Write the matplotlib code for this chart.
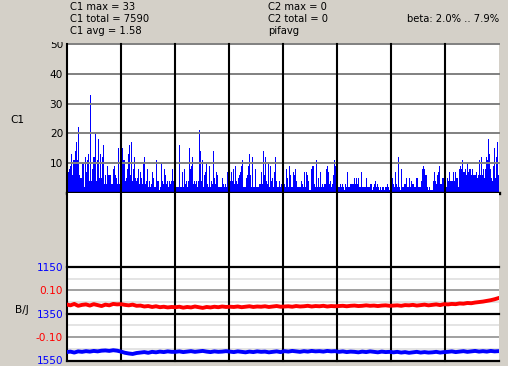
import numpy as np
import matplotlib
matplotlib.use("Agg")
import matplotlib.pyplot as plt
from matplotlib.patches import Rectangle

# ---------------- data ----------------
c1_counts = [
    # segment 1
    8, 7, 8, 9, 13, 6, 11, 11, 14, 17, 11, 22, 6, 5, 5, 10, 10, 2, 12, 7, 11, 13, 4, 33, 4, 8, 12,
    12, 20, 4, 11, 18, 5, 13, 5, 12, 16, 3, 6, 3, 9, 6, 6, 6, 3, 3, 8, 9, 6, 5, 3, 15, 3, 16,
    # segment 2
    16, 15, 11, 11, 4, 5, 8, 13, 16, 6, 17, 4, 8, 12, 5, 4, 5, 8, 3, 7, 5, 3, 10, 12, 3, 4, 8,
    2, 4, 2, 3, 7, 5, 2, 2, 11, 4, 4, 1, 2, 10, 4, 3, 8, 6, 3, 4, 2, 4, 3, 4, 8, 4, 6,
    # segment 3
    3, 2, 2, 2, 16, 2, 2, 7, 2, 8, 3, 4, 2, 4, 15, 8, 9, 12, 3, 4, 3, 4, 2, 4, 21, 14, 4,
    11, 2, 6, 7, 10, 3, 2, 9, 2, 4, 3, 14, 5, 3, 7, 6, 2, 2, 2, 2, 5, 3, 2, 3, 2, 7, 2,
    # segment 4
    7, 4, 7, 4, 8, 3, 9, 4, 3, 5, 6, 7, 9, 11, 2, 2, 2, 5, 6, 9, 13, 6, 2, 12, 2, 2, 8,
    2, 2, 2, 3, 3, 7, 3, 14, 6, 12, 4, 3, 10, 2, 9, 4, 5, 2, 7, 12, 4, 2, 2, 4, 2, 3, 9,
    # segment 5
    9, 3, 2, 8, 5, 2, 9, 6, 2, 2, 7, 6, 8, 4, 2, 2, 2, 2, 4, 3, 2, 7, 2, 7, 6, 4, 1,
    1, 8, 9, 9, 3, 2, 11, 2, 5, 2, 7, 2, 3, 2, 3, 3, 8, 9, 7, 3, 4, 2, 3, 6, 11, 9, 9,
    # segment 6
    2, 2, 2, 3, 2, 3, 2, 1, 3, 2, 7, 2, 2, 3, 3, 3, 3, 5, 3, 5, 3, 5, 2, 2, 7, 2, 2,
    2, 2, 5, 2, 2, 2, 3, 3, 1, 2, 3, 4, 2, 3, 2, 1, 2, 1, 2, 2, 1, 2, 2, 3, 2, 1, 2,
    # segment 7
    2, 5, 3, 2, 7, 3, 2, 12, 2, 1, 8, 2, 2, 3, 3, 5, 2, 2, 5, 2, 4, 3, 3, 2, 2, 5, 5,
    2, 2, 2, 4, 8, 9, 8, 6, 6, 2, 1, 2, 1, 1, 1, 4, 7, 4, 3, 6, 7, 9, 3, 3, 5, 5, 18,
    # segment 8
    4, 2, 5, 4, 7, 4, 4, 4, 7, 4, 7, 5, 5, 2, 8, 9, 8, 11, 7, 7, 8, 6, 10, 7, 8, 8, 6,
    8, 6, 6, 6, 7, 5, 6, 11, 6, 12, 6, 8, 5, 8, 12, 11, 18, 13, 8, 5, 4, 9, 15, 5, 12, 17, 6,
]

pif_red = [
    0.040, 0.036, 0.042, 0.034, 0.038, 0.040, 0.035, 0.041, 0.037, 0.033, 0.039, 0.036, 0.042, 0.040,
    0.041, 0.038, 0.036, 0.039, 0.034, 0.035, 0.031, 0.033, 0.029, 0.032, 0.028, 0.030, 0.027, 0.029,
    0.028, 0.030, 0.026, 0.029, 0.027, 0.031, 0.028, 0.025, 0.029, 0.027, 0.030, 0.028, 0.031, 0.029,
    0.030, 0.029, 0.031, 0.028, 0.030, 0.032, 0.029, 0.031, 0.030, 0.032, 0.029, 0.031, 0.033, 0.030,
    0.031, 0.032, 0.030, 0.033, 0.031, 0.032, 0.034, 0.031, 0.033, 0.032, 0.034, 0.031, 0.033, 0.032,
    0.033, 0.034, 0.032, 0.034, 0.035, 0.033, 0.034, 0.036, 0.034, 0.035, 0.033, 0.035, 0.036, 0.034,
    0.035, 0.036, 0.034, 0.037, 0.036, 0.038, 0.035, 0.037, 0.039, 0.036, 0.038, 0.040, 0.037, 0.041,
    0.040, 0.042, 0.041, 0.044, 0.043, 0.046, 0.045, 0.048, 0.050, 0.052, 0.055, 0.058, 0.062, 0.067,
]

bj_blue = [
    1514, 1512, 1516, 1511, 1513, 1510, 1512, 1509, 1511, 1508, 1507, 1509, 1506, 1508,
    1512, 1517, 1520, 1522, 1518, 1516, 1514, 1517, 1513, 1515, 1512, 1514, 1511, 1513,
    1513, 1511, 1514, 1512, 1510, 1513, 1511, 1509, 1512, 1514, 1511, 1513, 1512, 1510,
    1512, 1514, 1511, 1513, 1515, 1512, 1514, 1511, 1513, 1512, 1515, 1513, 1511, 1514,
    1510, 1512, 1509, 1511, 1513, 1510, 1512, 1509, 1511, 1510, 1512, 1509, 1511, 1510,
    1513, 1511, 1514, 1512, 1513, 1515, 1512, 1514, 1511, 1513, 1515, 1512, 1514, 1513,
    1515, 1513, 1516, 1514, 1517, 1515, 1513, 1516, 1514, 1516, 1515, 1513, 1516, 1514,
    1513, 1511, 1514, 1512, 1510, 1513, 1511, 1509, 1512, 1510, 1512, 1509, 1511, 1510,
]

c1_ticks = [10, 20, 30, 40, 50]
c1_ticklabels = ["10", "20", "30", "40", "50"]
blue_ticks = [1150, 1350, 1550]
blue_ticklabels = ["1150", "1350", "1550"]
red_ticks = [0.10, -0.10]
red_ticklabels = ["0.10", "-0.10"]

header_left = ["C1 max = 33", "C1 total = 7590", "C1 avg = 1.58"]
header_mid = ["C2 max = 0", "C2 total = 0", "pifavg"]
header_right = "beta: 2.0% .. 7.9%"

# ---------------- layout ----------------
W, H = 508, 366
BG = "#D4D0C8"
FONT = "DejaVu Sans"
FS = 7.2
TFS = 7.6
plt.rcParams["font.family"] = FONT

fig = plt.figure(figsize=(W / 100, H / 100), dpi=100, facecolor=BG)


def ax_px(x0, y0, x1, y1):
    return [x0 / W, 1 - y1 / H, (x1 - x0) / W, (y1 - y0) / H]


LEFT, RIGHT = 66.5, 498.5
N = len(c1_counts)
vgrid = np.arange(0, N, N // 8)

ax_top = fig.add_axes(ax_px(LEFT, 44, RIGHT, 193))
ax_mid = fig.add_axes(ax_px(LEFT, 193, RIGHT, 267))
ax_bot = fig.add_axes(ax_px(LEFT, 267, RIGHT, 360.5))

for ax in (ax_top, ax_mid, ax_bot):
    ax.set_facecolor("white")
    for s in ax.spines.values():
        s.set_visible(False)
    ax.set_xlim(0, N)
    ax.set_xticks([])
    for xv in vgrid:
        ax.axvline(xv, color="black", lw=1.5, zorder=3, clip_on=False)

# top panel: bars
x = np.arange(N) + 0.5
ax_top.bar(x, c1_counts, width=1.0, color="#0000FF", linewidth=0,
           antialiased=False, zorder=1)
ax_top.set_ylim(0, 50)
for yv in c1_ticks:
    ax_top.axhline(yv, color="#808080", lw=1.4, zorder=2, clip_on=False)
ax_top.axhline(0, color="black", lw=2.4, zorder=4, clip_on=False)
ax_top.set_yticks(c1_ticks, c1_ticklabels)
ax_top.tick_params(axis="y", length=0, pad=2.4, labelsize=TFS, colors="black")

ax_mid.set_yticks([])

# bottom panel
ax_bot.set_ylim(1550, 1150)
for yv in [1200, 1300, 1400, 1500]:
    ax_bot.axhline(yv, color="#E4E4E4", lw=1.4, zorder=1)
for yv in [1250, 1450]:
    ax_bot.axhline(yv, color="#A0A0A0", lw=1.4, zorder=1)
for yv in blue_ticks:
    ax_bot.axhline(yv, color="black", lw=1.6, zorder=2, clip_on=False)
ax_bot.set_yticks(blue_ticks, blue_ticklabels)
ax_bot.tick_params(axis="y", length=0, pad=2.4, labelsize=TFS, labelcolor="#0000FF")

xb = np.linspace(0, N, len(bj_blue))
ax_bot.plot(xb, bj_blue, color="#0000FF", lw=2.8, zorder=5)

ax_red = ax_bot.twinx()
for s in ax_red.spines.values():
    s.set_visible(False)
ax_red.set_ylim(-0.2, 0.2)
xr = np.linspace(0, N, len(pif_red))
ax_red.plot(xr, pif_red, color="#FF0000", lw=2.8, zorder=5)
ax_red.yaxis.set_ticks_position("left")
ax_red.set_yticks(red_ticks, red_ticklabels)
ax_red.tick_params(axis="y", length=0, pad=2.4, labelsize=TFS, labelcolor="#FF0000")
ax_red.set_xlim(0, N)

# mask to clip top of the "50" label like the reference
ax_top.add_patch(Rectangle((0, 1 - 42 / H), 1, 42 / H, transform=fig.transFigure,
                           facecolor=BG, edgecolor="none", clip_on=False, zorder=20))

# header texts
rows = [6.5, 18.5, 31]
for t, y in zip(header_left, rows):
    fig.text(70 / W, 1 - y / H, t, fontsize=FS, va="center", ha="left")
for t, y in zip(header_mid, rows):
    fig.text(268 / W, 1 - y / H, t, fontsize=FS, va="center", ha="left")
fig.text(499 / W, 1 - 18.5 / H, header_right, fontsize=FS, va="center", ha="right")

# axis labels
fig.text(17 / W, 1 - 120 / H, "C1", fontsize=TFS, va="center", ha="center")
fig.text(22 / W, 1 - 310 / H, "B/J", fontsize=TFS, va="center", ha="center")

fig.savefig("out.png", dpi=100, facecolor=BG)
